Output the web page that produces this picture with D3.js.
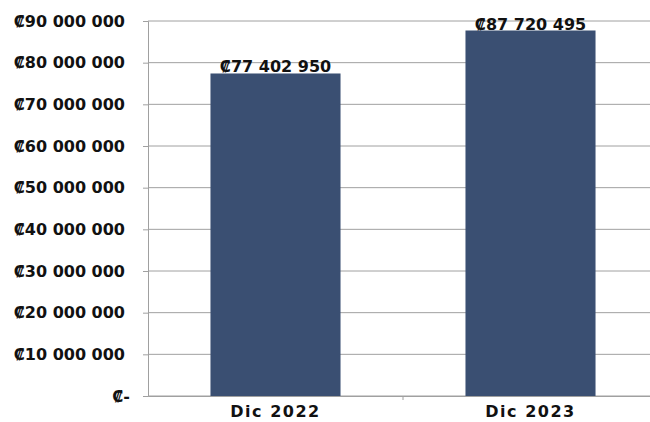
<!DOCTYPE html>
<html>
<head>
<meta charset="utf-8">
<script src="https://cdn.jsdelivr.net/npm/d3@7"></script>
<style>
  body { margin: 0; background: #fff; }
  svg { display: block; }
  text { font-family: "DejaVu Sans", Arial, sans-serif; font-weight: bold; fill: #111; }
</style>
</head>
<body>
<svg width="650" height="422"></svg>
<script>
// chart data
var categories = ["Dic 2022", "Dic 2023"];
var values = [77402950, 87720495];
var yTicks = [0, 10000000, 20000000, 30000000, 40000000, 50000000, 60000000, 70000000, 80000000, 90000000];

var margin = {top: 21, right: -8, bottom: 26, left: 148},
    width = 650 - margin.left - margin.right,
    height = 422 - margin.top - margin.bottom;

var svg = d3.select("svg");
var g = svg.append("g")
    .attr("transform", "translate(" + margin.left + "," + margin.top + ")");

var x = d3.scaleBand().domain(categories).range([0, width]).paddingInner(0.49).paddingOuter(0.245);
var y = d3.scaleLinear().domain([0, 90000000]).range([height, 0]);

// money format with spaces
function money(v) {
  if (v === 0) return "\u20A1-";
  return "\u20A1" + d3.format(",")(v).replace(/,/g, " ");
}

// gridlines
g.selectAll(".grid")
  .data(yTicks)
  .enter().append("line")
    .attr("x1", 0)
    .attr("x2", 650 - margin.left)
    .attr("y1", function(d) { return y(d); })
    .attr("y2", function(d) { return y(d); })
    .attr("stroke", "#a0a0a0")
    .attr("stroke-width", 1);

// y axis
var yAxis = g.append("g")
    .call(d3.axisLeft(y).tickValues(yTicks).tickFormat(money).tickSize(5).tickPadding(18));
yAxis.select(".domain").attr("stroke", "#a0a0a0");
yAxis.selectAll(".tick line").attr("stroke", "#a0a0a0");
yAxis.selectAll("text").style("font-size", "16px").attr("fill", "#111")
    .attr("dx", function(d) { return d === 0 ? 5 : 0; });

// bars
g.selectAll(".bar")
  .data(values)
  .enter().append("rect")
    .attr("x", function(d, i) { return x(categories[i]); })
    .attr("y", function(d) { return y(d); })
    .attr("width", x.bandwidth())
    .attr("height", function(d) { return height - y(d); })
    .attr("fill", "#3a4f72");

// x axis
var xAxis = g.append("g")
    .attr("transform", "translate(0," + height + ")")
    .call(d3.axisBottom(x).tickSize(0).tickPadding(10));
xAxis.select(".domain").attr("stroke", "#a0a0a0");
xAxis.selectAll("text").style("font-size", "16px").style("letter-spacing", "1.5px").attr("fill", "#111");
xAxis.append("line")
    .attr("x1", x.step())
    .attr("x2", x.step())
    .attr("y1", 0).attr("y2", 4)
    .attr("stroke", "#a0a0a0");

// value labels
g.selectAll(".label")
  .data(values)
  .enter().append("text")
    .attr("x", function(d, i) { return x(categories[i]) + x.bandwidth() / 2; })
    .attr("y", function(d) { return y(d) - 1; })
    .attr("text-anchor", "middle")
    .style("font-size", "16px")
    .text(function(d) { return money(d); });
</script>
</body>
</html>
